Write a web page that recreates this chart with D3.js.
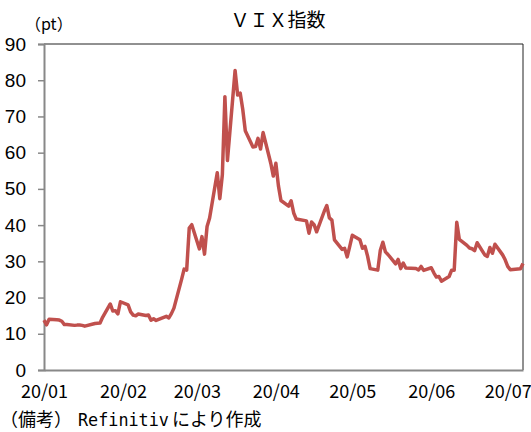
<!DOCTYPE html>
<html>
<head>
<meta charset="utf-8">
<script src="https://cdn.jsdelivr.net/npm/d3@7"></script>
<style>
  body { margin: 0; background: #fff; }
  svg { display: block; }
</style>
</head>
<body>
<svg width="531" height="432"></svg>
<script>
// VIX daily close, 2020/01 - 2020/07
const dates = [
  "2020-01-01","2020-01-02","2020-01-03","2020-01-06","2020-01-07","2020-01-08","2020-01-09","2020-01-10",
  "2020-01-13","2020-01-14","2020-01-15","2020-01-16","2020-01-17","2020-01-21","2020-01-22","2020-01-23",
  "2020-01-24","2020-01-27","2020-01-28","2020-01-29","2020-01-30","2020-01-31",
  "2020-02-03","2020-02-04","2020-02-05","2020-02-06","2020-02-07","2020-02-10","2020-02-11","2020-02-12",
  "2020-02-13","2020-02-14","2020-02-18","2020-02-19","2020-02-20","2020-02-21","2020-02-24","2020-02-25",
  "2020-02-26","2020-02-27","2020-02-28",
  "2020-03-02","2020-03-03","2020-03-04","2020-03-05","2020-03-06","2020-03-09","2020-03-10","2020-03-11",
  "2020-03-12","2020-03-13","2020-03-16","2020-03-17","2020-03-18","2020-03-19","2020-03-20","2020-03-23",
  "2020-03-24","2020-03-25","2020-03-26","2020-03-27","2020-03-30","2020-03-31",
  "2020-04-01","2020-04-02","2020-04-03","2020-04-06","2020-04-07","2020-04-08","2020-04-09","2020-04-13",
  "2020-04-14","2020-04-15","2020-04-16","2020-04-17","2020-04-20","2020-04-21","2020-04-22","2020-04-23",
  "2020-04-24","2020-04-27","2020-04-28","2020-04-29","2020-04-30",
  "2020-05-01","2020-05-04","2020-05-05","2020-05-06","2020-05-07","2020-05-08","2020-05-11","2020-05-12",
  "2020-05-13","2020-05-14","2020-05-15","2020-05-18","2020-05-19","2020-05-20","2020-05-21","2020-05-22",
  "2020-05-26","2020-05-27","2020-05-28","2020-05-29",
  "2020-06-01","2020-06-02","2020-06-03","2020-06-04","2020-06-05","2020-06-08","2020-06-09","2020-06-10",
  "2020-06-11","2020-06-12","2020-06-15","2020-06-16","2020-06-17","2020-06-18","2020-06-19","2020-06-22",
  "2020-06-23","2020-06-24","2020-06-25","2020-06-26","2020-06-29","2020-06-30",
  "2020-07-01","2020-07-02","2020-07-06","2020-07-07"
];
const vix = [
  13.78,12.47,14.02,13.85,13.79,13.45,12.54,12.56,
  12.32,12.39,12.42,12.32,12.10,12.85,12.91,12.98,
  14.56,18.23,16.28,16.39,15.49,18.84,
  17.97,16.05,15.15,14.96,15.47,15.04,15.18,13.74,
  14.15,13.68,14.83,14.38,15.56,17.08,25.03,27.85,
  27.56,39.16,40.11,
  33.42,36.82,31.99,39.62,41.94,54.46,47.30,53.90,
  75.47,57.83,82.69,75.91,76.45,72.00,66.04,61.59,
  61.67,63.95,61.00,65.54,57.08,53.54,
  57.06,50.91,46.80,45.24,46.70,43.35,41.67,41.17,
  37.76,40.84,40.11,38.15,43.83,45.41,41.98,41.38,
  35.93,33.29,33.57,31.23,34.15,
  37.19,35.97,33.61,34.12,31.44,27.98,27.57,33.04,
  35.28,32.61,31.89,29.30,30.53,27.99,29.53,28.16,
  28.01,27.62,28.59,27.51,
  28.23,26.84,25.66,25.81,24.52,25.81,27.57,27.57,
  40.79,36.09,34.40,33.67,33.47,32.94,35.12,31.77,
  31.37,33.84,32.22,34.73,31.78,30.43,
  28.62,27.68,27.94,29.43
];
const yTicks = [0, 10, 20, 30, 40, 50, 60, 70, 80, 90];
const monthTicks = ["2020-01-01","2020-02-01","2020-03-01","2020-04-01","2020-05-01","2020-06-01","2020-07-01"];

const parse = d3.timeParse("%Y-%m-%d");
const data = dates.map((d, i) => ({ date: parse(d), value: vix[i] }));

const plotL = 44, plotR = 523, plotT = 44, plotB = 370;

const svg = d3.select("svg");

const x = d3.scaleTime()
    .domain([parse("2020-01-01"), parse("2020-07-07")])
    .range([plotL, plotR]);

const y = d3.scaleLinear()
    .domain([0, 90])
    .range([plotB, plotT]);

// top and right frame
svg.append("path")
    .attr("d", `M${plotL},${plotT}H${plotR}V${plotB}`)
    .attr("fill", "none")
    .attr("stroke", "#222")
    .attr("stroke-width", 1);

// y axis
const yAxis = svg.append("g")
    .attr("transform", `translate(${plotL},0)`)
    .call(d3.axisLeft(y).tickValues(yTicks).tickSize(6).tickPadding(12).tickFormat(d3.format("d")));
yAxis.select(".domain").attr("stroke", "#888").attr("stroke-width", 2);
yAxis.selectAll(".tick line").attr("stroke", "#888").attr("stroke-width", 1.5);
yAxis.selectAll(".tick text")
    .attr("font-family", "'Liberation Sans', Arial, sans-serif")
    .attr("font-size", 19)
    .attr("fill", "#000");

// x axis
const xAxis = svg.append("g")
    .attr("transform", `translate(0,${plotB})`)
    .call(d3.axisBottom(x).tickValues(monthTicks.map(parse)).tickSize(0).tickPadding(15)
        .tickFormat(d3.timeFormat("%y/%m")));
xAxis.select(".domain").attr("stroke", "#888").attr("stroke-width", 2);
xAxis.selectAll(".tick text")
    .attr("font-family", "'Noto Sans CJK JP', sans-serif")
    .attr("font-size", 18)
    .attr("fill", "#000");

// line
const line = d3.line()
    .x(d => x(d.date))
    .y(d => y(d.value));

svg.append("path")
    .datum(data)
    .attr("d", line)
    .attr("fill", "none")
    .attr("stroke", "#C0504D")
    .attr("stroke-width", 3.5)
    .attr("stroke-linejoin", "round");

// title and labels
svg.append("text")
    .attr("x", 278)
    .attr("y", 27)
    .attr("text-anchor", "middle")
    .attr("font-family", "'Noto Sans CJK JP', sans-serif")
    .attr("font-size", 19)
    .text("ＶＩＸ指数");

svg.append("text")
    .attr("x", 25)
    .attr("y", 30)
    .attr("font-family", "'Noto Sans CJK JP', sans-serif")
    .attr("font-size", 16)
    .text("（pt）");

const note = svg.append("text")
    .attr("x", 0)
    .attr("y", 426)
    .attr("font-family", "'Noto Sans CJK JP', sans-serif")
    .attr("font-size", 18);
note.append("tspan").text("（備考）");
note.append("tspan")
    .attr("font-family", "'DejaVu Sans Mono', monospace")
    .attr("font-size", 16.8)
    .attr("dx", 6)
    .text("Refinitiv");
note.append("tspan").attr("dx", 3).text("により作成");
</script>
</body>
</html>
